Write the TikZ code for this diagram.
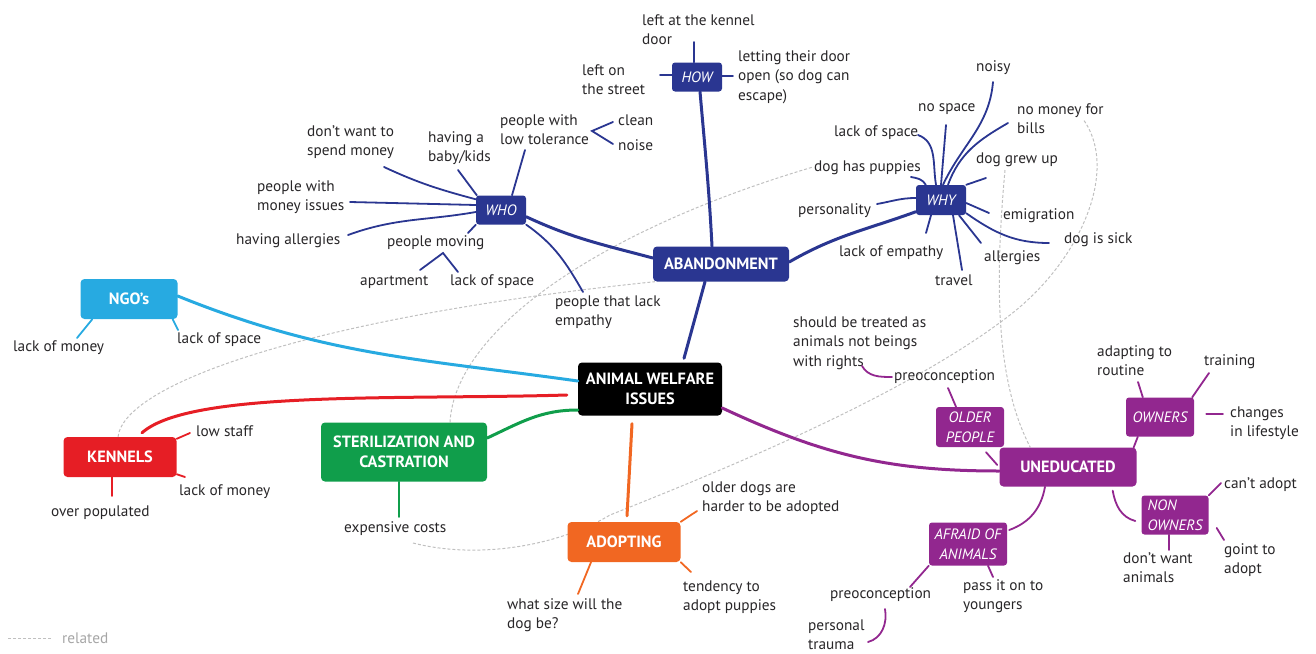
\documentclass[tikz,border=0pt]{standalone}
\usepackage{fontspec}
\setmainfont{PT Sans}
\usepackage{tikz}
\usetikzlibrary{positioning,backgrounds}
\definecolor{navy}{RGB}{42,54,145}
\definecolor{ngoblue}{RGB}{39,170,225}
\definecolor{kred}{RGB}{230,30,37}
\definecolor{sgreen}{RGB}{16,158,75}
\definecolor{aorange}{RGB}{241,103,34}
\definecolor{upurple}{RGB}{146,39,143}
\definecolor{ink}{RGB}{40,38,40}
\definecolor{relgray}{RGB}{192,192,192}
\newcommand{\leaffont}{\fontsize{15.3}{19.3}\selectfont}
\newcommand{\boxfont}{\fontsize{16.3}{20}\selectfont}
\newcommand{\subfont}{\fontsize{15}{19.5}\selectfont}

\begin{document}
\begin{tikzpicture}[x=1pt, y=-1pt,
  leaf/.style={inner sep=1pt, anchor=west, align=left, text=ink, font=\leaffont},
  topic/.style={rounded corners=4pt, text=white, font=\boxfont\bfseries, align=center, inner sep=0pt},
  sub/.style={rounded corners=3pt, text=white, font=\subfont\itshape, align=center, inner sep=0pt},
  link/.style={line width=3pt, line cap=round},
  twig/.style={line width=1.8pt, line cap=round},
  related/.style={relgray, line width=1pt, dash pattern=on 3pt off 2pt}]
  \useasboundingbox (0,0) rectangle (1316,653);

  \node[topic, fill=black, minimum width=144pt, minimum height=53pt] (main) at (650,389) {ANIMAL WELFARE\\ISSUES};
  \node[topic, fill=navy, minimum width=136pt, minimum height=35pt] (aban) at (721,264) {ABANDONMENT};
  \node[topic, fill=ngoblue, minimum width=97pt, minimum height=40pt] (ngo) at (129,299) {NGO’s};
  \node[topic, fill=kred, minimum width=113pt, minimum height=40pt] (kenn) at (120,457) {KENNELS};
  \node[topic, fill=sgreen, minimum width=166pt, minimum height=59pt] (ster) at (404,452) {STERILIZATION AND\\CASTRATION};
  \node[topic, fill=aorange, minimum width=113pt, minimum height=40pt] (adop) at (624,542) {ADOPTING};
  \node[topic, fill=upurple, minimum width=137pt, minimum height=39pt] (uned) at (1068,467) {UNEDUCATED};

  \node[sub, fill=navy, minimum width=50pt, minimum height=29pt] (how) at (697,77) {HOW};
  \node[sub, fill=navy, minimum width=50pt, minimum height=29pt] (who) at (501,210) {WHO};
  \node[sub, fill=navy, minimum width=50pt, minimum height=30pt] (why) at (941,200) {WHY};
  \node[sub, fill=upurple, minimum width=68pt, minimum height=40pt] (older) at (970,427) {OLDER\\PEOPLE};
  \node[sub, fill=upurple, minimum width=68pt, minimum height=39pt] (owners) at (1160,417) {OWNERS};
  \node[sub, fill=upurple, minimum width=67pt, minimum height=39pt, align=left] (nonown) at (1175,515) {NON\\OWNERS};
  \node[sub, fill=upurple, minimum width=78pt, minimum height=43pt] (afraid) at (968,544) {AFRAID OF\\ANIMALS};

  \node[leaf] (how1) at (641,30) {left at the kennel\\door};
  \node[leaf] (how2) at (737,77) {letting their door\\open (so dog can\\escape)};
  \node[leaf] (how3) at (581,80) {left on\\the street};

  \node[leaf] (who1) at (306,142) {don’t want to\\spend money};
  \node[leaf] (who2) at (427,148) {having a\\baby/kids};
  \node[leaf] (who3) at (499,130) {people with\\low tolerance};
  \node[leaf] (who3a) at (617,120) {clean};
  \node[leaf] (who3b) at (617,145) {noise};
  \node[leaf] (who4) at (256,197) {people with\\money issues};
  \node[leaf] (who5) at (235,241) {having allergies};
  \node[leaf] (who6) at (386,243) {people moving};
  \node[leaf] (who6a) at (359,282) {apartment};
  \node[leaf] (who6b) at (449,282) {lack of space};
  \node[leaf] (who7) at (554,312) {people that lack\\empathy};

  \node[leaf] (why1) at (975,68) {noisy};
  \node[leaf] (why2) at (917,109) {no space};
  \node[leaf] (why3) at (1016,119) {no money for\\bills};
  \node[leaf] (why4) at (833,133) {lack of space};
  \node[leaf] (why5) at (975,160) {dog grew up};
  \node[leaf] (why6) at (813,168) {dog has puppies};
  \node[leaf] (why7) at (797,211) {personality};
  \node[leaf] (why8) at (1002,216) {emigration};
  \node[leaf] (why9) at (1063,240) {dog is sick};
  \node[leaf] (why10) at (838,253) {lack of empathy};
  \node[leaf] (why11) at (983,258) {allergies};
  \node[leaf] (why12) at (934,280) {travel};

  \node[leaf] (ngo1) at (12,348) {lack of money};
  \node[leaf] (ngo2) at (176,340) {lack of space};
  \node[leaf] (ken1) at (195,431) {low staff};
  \node[leaf] (ken2) at (178,492) {lack of money};
  \node[leaf] (ken3) at (50,513) {over populated};
  \node[leaf] (ster1) at (343,529) {expensive costs};
  \node[leaf] (adop1) at (701,498) {older dogs are\\harder to be adopted};
  \node[leaf] (adop2) at (682,597) {tendency to\\adopt puppies};
  \node[leaf] (adop3) at (506,615) {what size will the\\dog be?};

  \node[leaf] (un1) at (792,343) {should be treated as\\animals not beings\\with rights};
  \node[leaf] (un2) at (893,377) {preoconception};
  \node[leaf] (un3) at (1096,361) {adapting to\\routine};
  \node[leaf] (un4) at (1203,362) {training};
  \node[leaf] (un5) at (1229,423) {changes\\in lifestyle};
  \node[leaf] (un6) at (1223,485) {can’t adopt};
  \node[leaf] (un7) at (1223,560) {goint to\\adopt};
  \node[leaf] (un8) at (1122,568) {don’t want\\animals};
  \node[leaf] (un9) at (962,596) {pass it on to\\youngers};
  \node[leaf] (un10) at (829,595) {preoconception};
  \node[leaf] (un11) at (807,635) {personal\\trauma};

  \node[leaf, text=black!35] (rel) at (61,638) {related};
  \draw[related] ([xshift=-10pt]rel.west) -- ([xshift=-53pt]rel.west);

  \path[link, navy]
    ([xshift=-9pt]aban.north) edge[out=93, in=-85] ([xshift=3pt]how.south)
    ([yshift=6pt]aban.west) edge[out=165, in=-25] (who.-15)
    ([xshift=-16pt]aban.south) edge ([xshift=34pt,yshift=4pt]main.north)
    ([yshift=2pt]aban.east) edge[out=30, in=200] (why.205);
  \path[link, ngoblue] ([yshift=3pt]ngo.east) edge[out=-22, in=172] ([yshift=8pt]main.west);
  \draw[link, kred] ([xshift=22pt,yshift=4pt]kenn.north) .. controls (190,390) and (400,400) .. ([xshift=-11pt,yshift=-6pt]main.west);
  \path[link, sgreen] ([yshift=14pt]ster.east) edge[out=25, in=180] ([yshift=-21pt]main.west);
  \path[link, aorange] ([xshift=-18pt,yshift=-8pt]main.south) edge ([xshift=3pt,yshift=6pt]adop.north);
  \path[link, upurple] ([yshift=-19pt]main.east) edge[out=-25, in=180] ([yshift=-4pt]uned.west);

  \path[twig, navy]
    ([xshift=-3pt]how.north) edge ([xshift=53pt,yshift=-12pt]how1.west)
    ([yshift=2pt]how.west) edge ([xshift=79pt,yshift=5pt]how3.west)
    ([yshift=1pt]how.east) edge ([xshift=-4pt,yshift=1pt]how2.west)
    ([xshift=78pt,yshift=-25pt]who1.west) edge[out=-25, in=165] ([yshift=-4pt]who.north west)
    ([xshift=94pt,yshift=-5pt]who4.west) edge ([yshift=5pt]who.west)
    ([xshift=113pt,yshift=6pt]who5.west) edge[out=20, in=190] ([yshift=-2pt]who.west)
    (who.south west) edge ([xshift=82pt,yshift=10pt]who6.west)
    ([xshift=31pt,yshift=-22pt]who2.west) edge ([xshift=1pt]who.north west)
    ([xshift=26pt,yshift=-20pt]who3.west) edge ([xshift=11pt]who.north)
    (who.south east) edge[out=-35, in=120] ([xshift=29pt,yshift=20pt]who7.west)
    ([xshift=18pt,yshift=-14pt]why1.west) edge[out=-95, in=65] ([xshift=2pt]why.north)
    ([xshift=29pt,yshift=-16pt]why2.west) edge (why.north)
    ([xshift=-8pt,yshift=-4pt]why3.west) edge[out=-150, in=70] ([xshift=7pt]why.north)
    ([xshift=85pt,yshift=-2pt]why4.west) edge[out=-20, in=100] ([xshift=-5pt]why.north)
    ([xshift=11pt,yshift=-18pt]why5.west) edge (why.north east)
    ([xshift=98pt,yshift=-9pt]why6.west) edge[out=-10, in=120] ([xshift=10pt]why.north west)
    ([xshift=80pt,yshift=7pt]why7.west) edge[out=10, in=180] ([yshift=2pt]why.west)
    ([yshift=-3pt]why.east) edge ([xshift=-13pt,yshift=3pt]why8.west)
    ([yshift=2pt]why.south east) edge[out=-35, in=180] ([xshift=-14pt,yshift=-3pt]why9.west)
    ([xshift=-10pt]why.south) edge ([xshift=88pt,yshift=20pt]why10.west)
    ([xshift=18pt]why.south) edge ([xshift=-2pt,yshift=15pt]why11.west)
    ([xshift=12pt]why.south) edge ([xshift=28pt,yshift=10pt]why12.west);
  \draw[twig, navy] ([xshift=-4pt,yshift=-2pt]who3a.west) -- ([xshift=93pt,yshift=-1pt]who3.west) -- ([xshift=-4pt,yshift=1pt]who3b.west);
  \draw[twig, navy] ([xshift=61pt,yshift=12pt]who6a.west) -- ([xshift=57pt,yshift=-10pt]who6.west) -- ([xshift=9pt,yshift=10pt]who6b.west);

  \path[twig, ngoblue]
    ([xshift=12pt]ngo.south west) edge ([xshift=65pt,yshift=10pt]ngo1.west)
    ([xshift=-5pt]ngo.south east) edge ([xshift=2pt,yshift=10pt]ngo2.west);
  \path[twig, kred]
    ([yshift=-2pt]kenn.north east) edge ([xshift=-5pt,yshift=-2pt]ken1.west)
    ([yshift=3pt]kenn.south east) edge ([xshift=7pt,yshift=15pt]ken2.west)
    ([xshift=-8pt]kenn.south) edge ([xshift=62pt,yshift=17pt]ken3.west);
  \path[twig, sgreen] ([xshift=-5pt]ster.south) edge ([xshift=56pt,yshift=12pt]ster1.west);
  \path[twig, aorange]
    (adop.north east) edge ([xshift=-4pt,yshift=-13pt]adop1.west)
    (adop.south east) edge ([xshift=9pt,yshift=25pt]adop2.west)
    ([xshift=-33pt]adop.south) edge ([xshift=72pt,yshift=21pt]adop3.west);

  \path[twig, upurple]
    ([xshift=16pt,yshift=-5pt]older.south) edge ([xshift=-2pt,yshift=2pt]uned.west)
    ([xshift=-14pt]older.north) edge ([xshift=55pt,yshift=-11pt]un2.west)
    ([xshift=70pt,yshift=-23pt]un1.west) edge[out=-60, in=180] ([xshift=-1pt]un2.west)
    ([xshift=-3pt]uned.north east) edge ([xshift=12pt]owners.south west)
    ([xshift=17pt]owners.north west) edge ([xshift=42pt,yshift=-21pt]un3.west)
    ([xshift=-2pt]owners.north east) edge ([xshift=6pt,yshift=-11pt]un4.west)
    ([xshift=12pt,yshift=3pt]owners.east) edge ([xshift=-6pt,yshift=9pt]un5.west)
    ([xshift=-24pt,yshift=-4pt]uned.south east) edge[out=-80, in=165] ([xshift=-6pt,yshift=-6pt]nonown.west)
    (nonown.north east) edge ([xshift=-2pt,yshift=2pt]un6.west)
    ([xshift=8pt,yshift=-13pt]nonown.east) edge ([xshift=1pt,yshift=20pt]un7.west)
    ([xshift=-6pt]nonown.south) edge ([xshift=47pt,yshift=18pt]un8.west)
    ([xshift=-23pt]uned.south) edge[out=-100, in=20] ([xshift=2pt,yshift=14pt]afraid.east)
    (afraid.south west) edge ([xshift=81pt,yshift=8pt]un10.west)
    ([xshift=20pt]afraid.south) edge ([xshift=31pt,yshift=19pt]un9.west)
    ([xshift=56pt,yshift=-14pt]un10.west) edge[out=-80, in=15] ([xshift=61pt,yshift=-7pt]un11.west);

  \begin{scope}[on background layer]
    \draw[related] ([xshift=-2pt]kenn.north) .. controls (125,380) and (330,315) .. ([xshift=2pt]aban.south west);
    \draw[related] ([xshift=46pt]ster.north) .. controls (455,330) and (600,230) .. ([yshift=1pt]why6.west);
    \draw[related] ([xshift=70pt,yshift=-14pt]ster1.west) .. controls (480,560) and (560,545) .. (610,515)
      .. controls (700,479) and (900,400) .. (1010,315) .. controls (1080,261) and (1120,170) .. ([xshift=67pt]why3.west);
    \draw[related] ([xshift=30pt,yshift=-10pt]why5.west) .. controls (995,280) and (995,380) .. ([xshift=31pt]uned.north west);
  \end{scope}
\end{tikzpicture}
\end{document}
